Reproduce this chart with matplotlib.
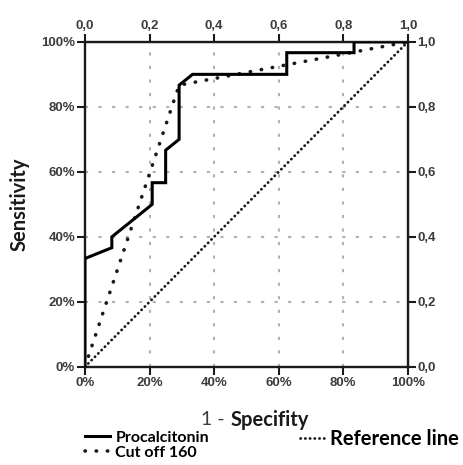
import numpy as np
import matplotlib.pyplot as plt
from matplotlib.ticker import FixedLocator, FuncFormatter

# ROC data (1 - specificity, sensitivity)
pct_fpr = [0.0, 0.0, 2/24, 2/24, 5/24, 5/24, 6/24, 6/24, 7/24, 7/24, 8/24, 15/24, 15/24, 20/24, 20/24, 1.0]
pct_tpr = [0.0, 10/30, 11/30, 12/30, 15/30, 17/30, 17/30, 20/30, 21/30, 26/30, 27/30, 27/30, 29/30, 29/30, 1.0, 1.0]

cut_fpr = [0.0, 7/24, 1.0]
cut_tpr = [0.0, 26/30, 1.0]

ref_fpr = [0.0, 1.0]
ref_tpr = [0.0, 1.0]

ticks = [0.0, 0.2, 0.4, 0.6, 0.8, 1.0]

tick_font = 'Liberation Sans'
label_font = 'Lato'

fig = plt.figure(figsize=(4.64, 4.65), dpi=100)
ax = fig.add_axes([0.183, 0.211, 0.696, 0.699])

l1, = ax.plot(pct_fpr, pct_tpr, color='black', lw=2.2, solid_joinstyle='miter',
              label='Procalcitonin', zorder=4)
l2, = ax.plot(cut_fpr, cut_tpr, color='#1a1a1a', lw=2.6, linestyle=(0, (0.1, 3.0)),
              dash_capstyle='round', label='Cut off 160', zorder=3)
l3, = ax.plot(ref_fpr, ref_tpr, color='#1a1a1a', lw=2.0, linestyle=(0, (0.1, 1.6)),
              dash_capstyle='round', label='Reference line', zorder=3)

ax.set_xlim(0, 1)
ax.set_ylim(0, 1)

# grid
for t in ticks[1:-1]:
    ax.axvline(t, color='#b0b0b0', lw=1.5, linestyle=(0, (1.5, 5)), zorder=1)
    ax.axhline(t, color='#b0b0b0', lw=1.5, linestyle=(0, (1.5, 5)), zorder=1)

for s in ax.spines.values():
    s.set_linewidth(1.7)
    s.set_color('#1a1a1a')

pct = FuncFormatter(lambda v, p: '%d%%' % round(v * 100))
dec = FuncFormatter(lambda v, p: ('%.1f' % v).replace('.', ','))

tick_kw = dict(direction='out', length=6, width=1.5, color='#1a1a1a',
               labelsize=9.5, labelcolor='#3c3c3c', pad=1)

ax.xaxis.set_major_locator(FixedLocator(ticks))
ax.yaxis.set_major_locator(FixedLocator(ticks))
ax.xaxis.set_major_formatter(pct)
ax.yaxis.set_major_formatter(pct)
ax.tick_params(**tick_kw)

axt = ax.secondary_xaxis('top')
axt.xaxis.set_major_locator(FixedLocator(ticks))
axt.xaxis.set_major_formatter(dec)
axt.tick_params(**tick_kw)

axr = ax.secondary_yaxis('right')
axr.yaxis.set_major_locator(FixedLocator(ticks))
axr.yaxis.set_major_formatter(dec)
axr.tick_params(**tick_kw)

for a in (ax, axt, axr):
    for lab in a.get_xticklabels() + a.get_yticklabels():
        lab.set_fontfamily(tick_font)
        lab.set_fontweight('bold')

# axis titles
fig.text(0.485, 0.097, '1 -', ha='right', va='center', fontfamily=label_font,
         fontsize=14, color='#3c3c3c')
fig.text(0.496, 0.097, 'Specifity', ha='left', va='center', fontfamily=label_font,
         fontweight='bold', fontsize=14.5, color='#1a1a1a')
fig.text(0.043, 0.56, 'Sensitivity', ha='center', va='center', rotation=90,
         fontfamily=label_font, fontweight='bold', fontsize=14.5, color='#1a1a1a')

leg1 = fig.legend(handles=[l1, l2], loc='upper left', bbox_to_anchor=(0.183, 0.074),
                  frameon=False, handlelength=1.6, handletextpad=0.3,
                  labelspacing=0.05, borderaxespad=0, borderpad=0,
                  prop={'family': label_font, 'weight': 'bold', 'size': 11.5})
leg2 = fig.legend(handles=[l3], loc='upper left', bbox_to_anchor=(0.647, 0.078),
                  frameon=False, handlelength=1.25, handletextpad=0.25,
                  borderaxespad=0, borderpad=0,
                  prop={'family': label_font, 'weight': 'bold', 'size': 14.5})

fig.savefig('out.png', dpi=100)
